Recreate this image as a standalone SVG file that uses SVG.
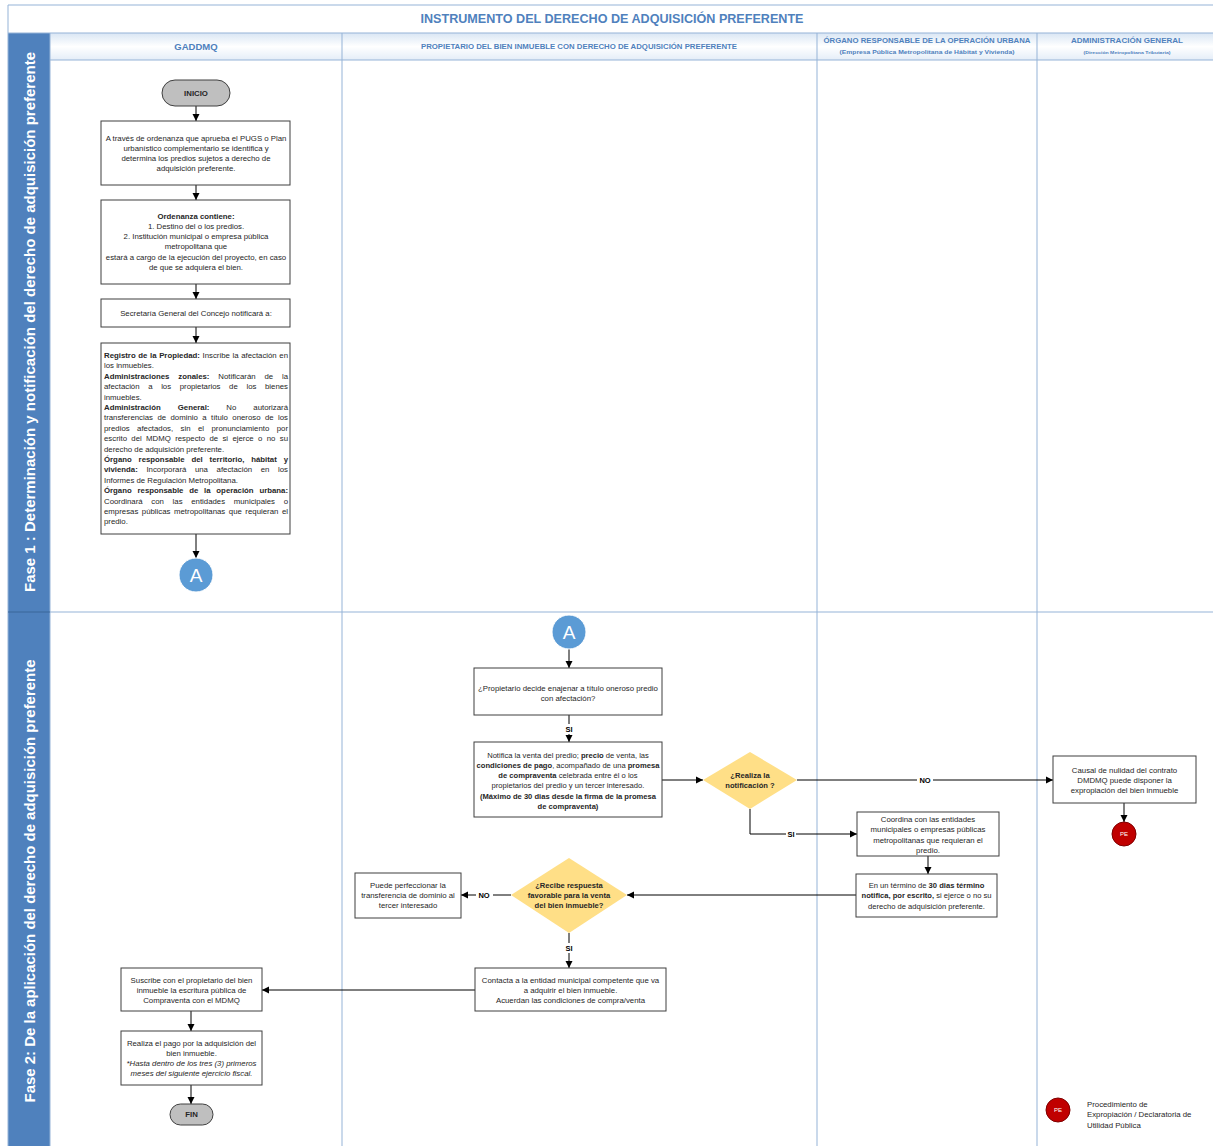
<svg xmlns="http://www.w3.org/2000/svg" width="1213" height="1146" viewBox="0 0 1213 1146">
<defs>
<linearGradient id="hdr" x1="0" y1="0" x2="0" y2="1">
<stop offset="0" stop-color="#d9e6f4"/>
<stop offset="0.5" stop-color="#ffffff"/>
<stop offset="1" stop-color="#e4edf8"/>
</linearGradient>
<marker id="ah" markerWidth="8" markerHeight="8" refX="7" refY="4" orient="auto" markerUnits="userSpaceOnUse">
<path d="M0,0.5 L7,4 L0,7.5 z" fill="#000"/>
</marker>
<style>
.lane{stroke:#95b3d7;stroke-width:1;fill:none}
.box{fill:#fff;stroke:#3f3f3f;stroke-width:1}
.t{font-family:"Liberation Sans",Arial,sans-serif;font-size:7.8px;fill:#262626}
.s{font-size:7.6px}
.c{text-anchor:middle}
.b{font-weight:bold}
.i{font-style:italic}
.hd{font-family:"Liberation Sans",Arial,sans-serif;font-weight:bold;fill:#4f81bd;text-anchor:middle}
.ph{font-family:"Liberation Sans",Arial,sans-serif;font-weight:bold;fill:#fff;font-size:15px;text-anchor:middle}
.term{fill:#bfbfbf;stroke:#404040;stroke-width:1}
.conn{stroke:#000;stroke-width:1;fill:none}
.dia{fill:#ffdf87;stroke:none}
.circA{fill:#5b9bd5;stroke:#fff;stroke-width:1}
.circT{font-family:"Liberation Sans",Arial,sans-serif;font-size:19px;fill:#fff;text-anchor:middle}
.pe{fill:#c00000;stroke:#7f0000;stroke-width:1}
.peT{font-family:"Liberation Sans",Arial,sans-serif;font-size:6px;fill:#fff;text-anchor:middle}
.lbl{font-family:"Liberation Sans",Arial,sans-serif;font-size:7.5px;font-weight:bold;fill:#000;text-anchor:middle}
</style>
</defs>
<rect x="0" y="0" width="1213" height="1146" fill="#fff"/>

<g id="frame">
<rect x="50" y="33" width="1163" height="27" fill="url(#hdr)"/>
<rect x="8" y="33" width="42" height="1113" fill="#4f81bd"/>
<line class="lane" x1="8" y1="5" x2="1213" y2="5"/>
<line class="lane" x1="8" y1="5" x2="8" y2="1146"/>
<line class="lane" x1="8" y1="33" x2="1213" y2="33"/>
<line class="lane" x1="50" y1="60" x2="1213" y2="60"/>
<line class="lane" x1="50" y1="33" x2="50" y2="1146"/>
<line class="lane" x1="342" y1="33" x2="342" y2="1146"/>
<line class="lane" x1="817" y1="33" x2="817" y2="1146"/>
<line class="lane" x1="1037" y1="33" x2="1037" y2="1146"/>
<line class="lane" x1="50" y1="612" x2="1213" y2="612"/>
<line x1="8" y1="612" x2="50" y2="612" stroke="#3a6799" stroke-width="1"/>
<text class="hd" x="612" y="23" font-size="12.5px" textLength="383" lengthAdjust="spacingAndGlyphs">INSTRUMENTO DEL DERECHO DE ADQUISICIÓN PREFERENTE</text>
<text class="hd" x="196" y="50" font-size="9.5px">GADDMQ</text>
<text class="hd" x="579" y="49" font-size="7px" textLength="316" lengthAdjust="spacingAndGlyphs">PROPIETARIO DEL BIEN INMUEBLE CON DERECHO DE ADQUISICIÓN PREFERENTE</text>
<text class="hd" x="927" y="43" font-size="7.5px" textLength="207" lengthAdjust="spacingAndGlyphs">ÓRGANO RESPONSABLE DE LA OPERACIÓN URBANA</text>
<text class="hd" x="927" y="54" font-size="6px" font-weight="normal" textLength="175" lengthAdjust="spacingAndGlyphs">(Empresa Pública Metropolitana de Hábitat y Vivienda)</text>
<text class="hd" x="1127" y="43" font-size="7.5px" textLength="112" lengthAdjust="spacingAndGlyphs">ADMINISTRACIÓN GENERAL</text>
<text class="hd" x="1127" y="54" font-size="3.8px" font-weight="normal" textLength="87" lengthAdjust="spacingAndGlyphs">(Dirección Metropolitana Tributaria)</text>
<text class="ph" transform="translate(35,322) rotate(-90)" textLength="540" lengthAdjust="spacingAndGlyphs">Fase 1 : Determinación y notificación del derecho de adquisición preferente</text>
<text class="ph" transform="translate(35,881) rotate(-90)" textLength="443" lengthAdjust="spacingAndGlyphs">Fase 2: De la aplicación del derecho de adquisición preferente</text>
</g>

<g id="connectors">
<line class="conn" x1="196" y1="106" x2="196" y2="121" marker-end="url(#ah)"/>
<line class="conn" x1="196" y1="185" x2="196" y2="200" marker-end="url(#ah)"/>
<line class="conn" x1="196" y1="284" x2="196" y2="299" marker-end="url(#ah)"/>
<line class="conn" x1="196" y1="327" x2="196" y2="343" marker-end="url(#ah)"/>
<line class="conn" x1="196" y1="534" x2="196" y2="558" marker-end="url(#ah)"/>
<line class="conn" x1="569" y1="649" x2="569" y2="668" marker-end="url(#ah)"/>
<polyline class="conn" points="569,715 569,724"/>
<line class="conn" x1="569" y1="734" x2="569" y2="742" marker-end="url(#ah)"/>
<text class="lbl" x="569" y="732">SI</text>
<line class="conn" x1="662" y1="780" x2="703" y2="780" marker-end="url(#ah)"/>
<line class="conn" x1="797" y1="780" x2="917" y2="780"/>
<line class="conn" x1="933" y1="780" x2="1053" y2="780" marker-end="url(#ah)"/>
<text class="lbl" x="925" y="783">NO</text>
<line class="conn" x1="1124" y1="803" x2="1124" y2="822" marker-end="url(#ah)"/>
<polyline class="conn" points="750,809 750,834 786,834"/>
<line class="conn" x1="796" y1="834" x2="857" y2="834" marker-end="url(#ah)"/>
<text class="lbl" x="791" y="837">SI</text>
<line class="conn" x1="928" y1="856" x2="928" y2="874" marker-end="url(#ah)"/>
<line class="conn" x1="856" y1="895" x2="627" y2="895" marker-end="url(#ah)"/>
<line class="conn" x1="511" y1="895" x2="493" y2="895"/>
<line class="conn" x1="476" y1="895" x2="461" y2="895" marker-end="url(#ah)"/>
<text class="lbl" x="484" y="898">NO</text>
<line class="conn" x1="569" y1="933" x2="569" y2="943"/>
<line class="conn" x1="569" y1="953" x2="569" y2="968" marker-end="url(#ah)"/>
<text class="lbl" x="569" y="951">SI</text>
<line class="conn" x1="475" y1="990" x2="262" y2="990" marker-end="url(#ah)"/>
<line class="conn" x1="191" y1="1011" x2="191" y2="1031" marker-end="url(#ah)"/>
<line class="conn" x1="191" y1="1085" x2="191" y2="1104" marker-end="url(#ah)"/>
</g>

<g id="inicio">
<rect class="term" x="162" y="80" width="68" height="26" rx="13"/>
<text class="t c b" x="196" y="95.5" font-size="6.5px">INICIO</text>
</g>

<g id="n1">
<rect class="box" x="101" y="121" width="189" height="64"/>
<text class="t c" x="196" y="140.5">A través de ordenanza que aprueba el PUGS o Plan</text>
<text class="t c" x="196" y="150.8">urbanístico complementario se identifica y</text>
<text class="t c" x="196" y="161.1">determina los predios sujetos a derecho de</text>
<text class="t c" x="196" y="171.4">adquisición preferente.</text>
</g>

<g id="n2">
<rect class="box" x="101" y="200" width="189" height="84"/>
<text class="t c b" x="196" y="218.5">Ordenanza contiene:</text>
<text class="t c" x="196" y="228.8">1. Destino del o los predios.</text>
<text class="t c" x="196" y="239.1">2. Institución municipal o empresa pública</text>
<text class="t c" x="196" y="249.4">metropolitana que</text>
<text class="t c" x="196" y="259.7">estará a cargo de la ejecución del proyecto, en caso</text>
<text class="t c" x="196" y="270">de que se adquiera el bien.</text>
</g>

<g id="n3">
<rect class="box" x="101" y="299" width="189" height="28"/>
<text class="t c" x="196" y="315.5">Secretaría General del Concejo notificará a:</text>
</g>

<g id="n4">
<rect class="box" x="101" y="343" width="189" height="191"/>
<text class="t" x="104" y="358" word-spacing="0.46" textLength="184" lengthAdjust="spacing"><tspan class="b">Registro de la Propiedad:</tspan> Inscribe la afectación en</text>
<text class="t" x="104" y="368.4">los inmuebles.</text>
<text class="t" x="104" y="378.8" word-spacing="6.67" textLength="184" lengthAdjust="spacing"><tspan class="b">Administraciones zonales:</tspan> Notificarán de la</text>
<text class="t" x="104" y="389.2" word-spacing="6.46" textLength="184" lengthAdjust="spacing">afectación a los propietarios de los bienes</text>
<text class="t" x="104" y="399.6">inmuebles.</text>
<text class="t" x="104" y="410" word-spacing="14.8" textLength="184" lengthAdjust="spacing"><tspan class="b">Administración General:</tspan> No autorizará</text>
<text class="t" x="104" y="420.4" word-spacing="2.26" textLength="184" lengthAdjust="spacing">transferencias de dominio a título oneroso de los</text>
<text class="t" x="104" y="430.8" word-spacing="5.26" textLength="184" lengthAdjust="spacing">predios afectados, sin el pronunciamiento por</text>
<text class="t" x="104" y="441.2" word-spacing="2.19" textLength="184" lengthAdjust="spacing">escrito del MDMQ respecto de si ejerce o no su</text>
<text class="t" x="104" y="451.6">derecho de adquisición preferente.</text>
<text class="t b" x="104" y="462" word-spacing="4.72" textLength="184" lengthAdjust="spacing">Órgano responsable del territorio, hábitat y</text>
<text class="t" x="104" y="472.4" word-spacing="6.45" textLength="184" lengthAdjust="spacing"><tspan class="b">vivienda:</tspan> Incorporará una afectación en los</text>
<text class="t" x="104" y="482.8">Informes de Regulación Metropolitana.</text>
<text class="t b" x="104" y="493.2" word-spacing="3.6" textLength="184" lengthAdjust="spacing">Órgano responsable de la operación urbana:</text>
<text class="t" x="104" y="503.6" word-spacing="6.54" textLength="184" lengthAdjust="spacing">Coordinará con las entidades municipales o</text>
<text class="t" x="104" y="514" word-spacing="1.36" textLength="184" lengthAdjust="spacing">empresas públicas metropolitanas que requieran el</text>
<text class="t" x="104" y="524.4">predio.</text>
</g>

<g id="connA1">
<circle class="circA" cx="196" cy="575" r="17"/>
<text class="circT" x="196" y="582">A</text>
</g>

<g id="connA2">
<circle class="circA" cx="569" cy="632" r="17"/>
<text class="circT" x="569" y="639">A</text>
</g>

<g id="p1">
<rect class="box" x="474" y="668" width="188" height="47"/>
<text class="t c" x="568" y="690.5">¿Propietario decide enajenar a título oneroso predio</text>
<text class="t c" x="568" y="700.8">con afectación?</text>
</g>

<g id="p2">
<rect class="box" x="474" y="742" width="188" height="75"/>
<text class="t s c" x="568" y="757.5">Notifica la venta del predio;  <tspan class="b">precio</tspan> de venta, las</text>
<text class="t s c" x="568" y="767.8"><tspan class="b">condiciones de pago</tspan>, acompañado de  una <tspan class="b">promesa</tspan></text>
<text class="t s c" x="568" y="778.1"><tspan class="b">de compraventa</tspan> celebrada entre él o los</text>
<text class="t s c" x="568" y="788.4">propietarios del predio y un tercer interesado.</text>
<text class="t s c b" x="568" y="798.7">(Máximo de 30 dias desde la firma de la promesa</text>
<text class="t s c b" x="568" y="809">de compraventa)</text>
</g>

<g id="d1">
<polygon class="dia" points="750,752 797,780 750,809 703,780"/>
<text class="t s c b" x="750" y="777.5">¿Realiza la</text>
<text class="t s c b" x="750" y="787.8">notificación ?</text>
</g>

<g id="r1">
<rect class="box" x="1053" y="756" width="143" height="47"/>
<text class="t c" x="1124.5" y="772.5">Causal de nulidad del contrato</text>
<text class="t c" x="1124.5" y="782.8">DMDMQ puede disponer la</text>
<text class="t c" x="1124.5" y="793.1">expropiación del bien inmueble</text>
</g>

<g id="pe1">
<circle class="pe" cx="1124" cy="834" r="12"/>
<text class="peT" x="1124" y="836.2">PE</text>
</g>

<g id="o1">
<rect class="box" x="857" y="812" width="142" height="44"/>
<text class="t c" x="928" y="822">Coordina con las entidades</text>
<text class="t c" x="928" y="832.3">municipales o empresas públicas</text>
<text class="t c" x="928" y="842.6">metropolitanas que requieran el</text>
<text class="t c" x="928" y="852.9">predio.</text>
</g>

<g id="o2">
<rect class="box" x="856" y="874" width="141" height="43"/>
<text class="t s c" x="926.5" y="888">En un término de <tspan class="b">30 dias  término</tspan></text>
<text class="t s c" x="926.5" y="898.3"><tspan class="b">notifica, por escrito,</tspan> si ejerce o no su</text>
<text class="t s c" x="926.5" y="908.6">derecho de adquisición preferente.</text>
</g>

<g id="d2">
<polygon class="dia" points="569,858 627,895 569,933 511,895"/>
<text class="t s c b" x="569" y="887.5">¿Recibe respuesta</text>
<text class="t s c b" x="569" y="897.8">favorable para la venta</text>
<text class="t s c b" x="569" y="908.1">del bien inmueble?</text>
</g>

<g id="l1">
<rect class="box" x="355" y="873" width="106" height="45"/>
<text class="t c" x="408" y="887.5">Puede perfeccionar la</text>
<text class="t c" x="408" y="897.8">transferencia de dominio al</text>
<text class="t c" x="408" y="908.1">tercer interesado</text>
</g>

<g id="p3">
<rect class="box" x="475" y="968" width="191" height="43"/>
<text class="t c" x="570.5" y="982.5">Contacta a la entidad municipal competente que va</text>
<text class="t c" x="570.5" y="992.8">a adquirir el bien inmueble.</text>
<text class="t c" x="570.5" y="1003.1">Acuerdan las condiciones de compra/venta</text>
</g>

<g id="g1">
<rect class="box" x="121" y="968" width="141" height="43"/>
<text class="t c" x="191.5" y="982.5">Suscribe con el propietario del bien</text>
<text class="t c" x="191.5" y="992.8">inmueble la escritura pública de</text>
<text class="t c" x="191.5" y="1003.1">Compraventa con el MDMQ</text>
</g>

<g id="g2">
<rect class="box" x="121" y="1031" width="141" height="54"/>
<text class="t c" x="191.5" y="1045.5">Realiza el pago por la adquisición del</text>
<text class="t c" x="191.5" y="1055.8">bien inmueble.</text>
<text class="t c i" x="191.5" y="1066.1">*Hasta dentro de los tres (3) primeros</text>
<text class="t c i" x="191.5" y="1076.4">meses del siguiente ejercicio fiscal.</text>
</g>

<g id="fin">
<rect class="term" x="170" y="1104" width="43" height="21" rx="10.5"/>
<text class="t c b" x="191.5" y="1116.5" font-size="6.5px">FIN</text>
</g>

<g id="legend">
<circle class="pe" cx="1058" cy="1110" r="12"/>
<text class="peT" x="1058" y="1112.2">PE</text>
<text class="t" x="1087" y="1107">Procedimiento de</text>
<text class="t" x="1087" y="1117.3">Expropiación / Declaratoria de</text>
<text class="t" x="1087" y="1127.6">Utilidad Pública</text>
</g>
</svg>
